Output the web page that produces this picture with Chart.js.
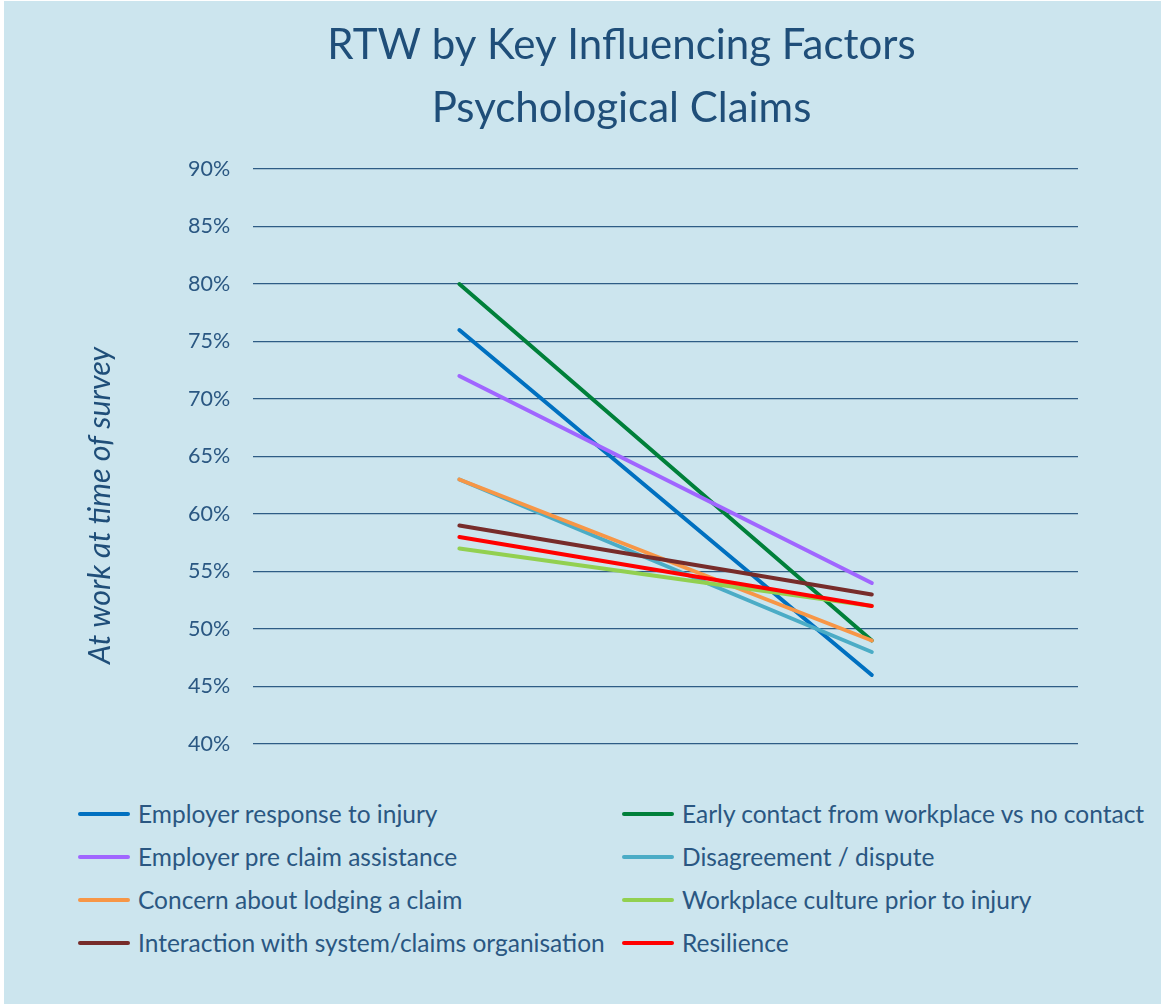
<!DOCTYPE html>
<html>
<head>
<meta charset="utf-8">
<title>RTW by Key Influencing Factors</title>
<script src="https://cdn.jsdelivr.net/npm/chart.js@4.4.1/dist/chart.umd.min.js"></script>
<style>
    html, body { margin: 0; padding: 0; background: #ffffff; }
    #frame {
        position: absolute; left: 4px; top: 1px; width: 1157px; height: 1003px;
        background: #cce5ee; overflow: hidden;
    }
    #chart-box { position: absolute; left: -4px; top: -1px; width: 1165px; height: 780px; }
    #legend {
        position: absolute; left: 74px; top: 791px; width: 1080px;
        display: grid; grid-template-columns: 544px 536px; row-gap: 0;
        font-family: Lato, 'Open Sans', sans-serif; font-size: 24.5px; color: #2a5782;
    }
    .legend-item { display: flex; align-items: center; height: 43px; white-space: nowrap; }
    .swatch { width: 52px; height: 4px; border-radius: 2px; margin-right: 8px; flex: none; }
</style>
</head>
<body>
<div id="frame">
    <div id="chart-box"><canvas id="rtw-chart" width="1165" height="780"></canvas></div>
    <div id="legend"></div>
</div>
<script>
const categories = ['Yes', 'No'];
const seriesNames = [
    'Employer response to injury',
    'Early contact from workplace vs no contact',
    'Employer pre claim assistance',
    'Disagreement / dispute',
    'Concern about lodging a claim',
    'Workplace culture prior to injury',
    'Interaction with system/claims organisation',
    'Resilience'
];
const employerResponse = [76, 46];
const earlyContact = [80, 49];
const preClaimAssistance = [72, 54];
const disagreement = [63, 48];
const concernLodging = [63, 49];
const workplaceCulture = [57, 52];
const interactionSystem = [59, 53];
const resilience = [58, 52];
const seriesColors = ['#0070c0', '#00803a', '#a066ff', '#4bacc6', '#f79646', '#92d050', '#772c2a', '#ff0000'];
const yTicks = [40, 45, 50, 55, 60, 65, 70, 75, 80, 85, 90];
const yAxisTitle = 'At work at time of survey';

document.addEventListener('DOMContentLoaded', () => {
    const allSeries = [employerResponse, earlyContact, preClaimAssistance, disagreement,
        concernLodging, workplaceCulture, interactionSystem, resilience];
    const textColor = '#2a5782';

    // later series drawn on top, like the original
    const datasets = allSeries.map((values, i) => ({
        label: seriesNames[i],
        data: values,
        borderColor: seriesColors[i],
        backgroundColor: seriesColors[i],
        borderWidth: 4,
        borderCapStyle: 'round',
        pointRadius: 0,
        order: allSeries.length - i
    }));

    // the original axis title sits a bit below the plot's middle, so draw it by hand
    const axisTitlePlugin = {
        id: 'axisTitle',
        afterDraw(chart) {
            const { ctx, chartArea } = chart;
            ctx.save();
            ctx.translate(chartArea.left - 153, chartArea.top + (chartArea.bottom - chartArea.top) * 0.585);
            ctx.rotate(-Math.PI / 2);
            ctx.font = 'italic 30.5px Lato';
            ctx.fillStyle = '#1f4e79';
            ctx.textAlign = 'center';
            ctx.textBaseline = 'middle';
            ctx.fillText(yAxisTitle, 0, 0);
            ctx.restore();
        }
    };

    new Chart(document.getElementById('rtw-chart'), {
        type: 'line',
        data: { labels: categories, datasets: datasets },
        plugins: [axisTitlePlugin],
        options: {
            responsive: false,
            animation: false,
            layout: { padding: { left: 165, right: 87, top: 0, bottom: 36 } },
            plugins: {
                legend: { display: false },
                tooltip: { enabled: false },
                title: {
                    display: true,
                    text: ['RTW by Key Influencing Factors', 'Psychological Claims'],
                    color: '#1f4e79',
                    font: { family: 'Lato', size: 42, weight: 'normal', lineHeight: 1.5 },
                    padding: { top: 14, bottom: 29 }
                }
            },
            scales: {
                x: {
                    display: false,
                    offset: true
                },
                y: {
                    min: 40,
                    max: 90,
                    afterBuildTicks: scale => { scale.ticks = yTicks.map(v => ({ value: v })); },
                    ticks: {
                        color: textColor,
                        padding: 23,
                        font: { family: 'Lato', size: 21.5 },
                        callback: v => v + '%'
                    },
                    grid: { color: '#2e5c85', lineWidth: 1.3, drawTicks: false },
                    border: { display: false }
                }
            }
        }
    });

    const legend = document.getElementById('legend');
    seriesNames.forEach((name, i) => {
        const item = document.createElement('div');
        item.className = 'legend-item';
        const swatch = document.createElement('span');
        swatch.className = 'swatch';
        swatch.style.background = seriesColors[i];
        item.appendChild(swatch);
        item.appendChild(document.createTextNode(name));
        legend.appendChild(item);
    });
});
</script>
</body>
</html>
